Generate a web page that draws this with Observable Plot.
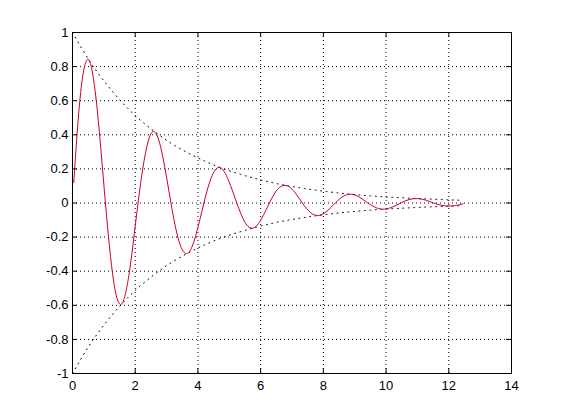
<!DOCTYPE html>
<html>
<head>
<meta charset="utf-8">
<script src="https://cdn.jsdelivr.net/npm/d3@7"></script>
<script src="https://cdn.jsdelivr.net/npm/@observablehq/plot@0.6"></script>
<style>
  html, body { margin: 0; padding: 0; background: white; }
  #chart svg { display: block; }
</style>
</head>
<body>
<div id="chart"></div>
<script>
// Damped oscillation
const tValues = [0.04, 0.26, 0.52, 0.79, 1.05, 1.31, 1.57, 1.83, 2.09, 2.36, 2.62, 2.88, 3.14, 3.40, 3.67, 3.93,
  4.19, 4.45, 4.71, 4.97, 5.24, 5.50, 5.76, 6.02, 6.28, 6.54, 6.81, 7.07, 7.33, 7.59, 7.85, 8.12,
  8.38, 8.64, 8.90, 9.16, 9.42, 9.69, 9.95, 10.21, 10.47, 10.73, 11.00, 11.26, 11.52, 11.78, 12.04, 12.30, 12.45];
const yValues = [0.12, 0.648, 0.840, 0.544, 0, -0.457, -0.592, -0.384, 0, 0.322, 0.418, 0.271, 0, -0.227, -0.295, -0.191,
  0, 0.160, 0.208, 0.135, 0, -0.113, -0.147, -0.095, 0, 0.080, 0.103, 0.067, 0, -0.056, -0.073, -0.047,
  0, 0.040, 0.051, 0.033, 0, -0.028, -0.036, -0.023, 0, 0.020, 0.026, 0.017, 0, -0.014, -0.018, -0.012, -0.005];

// Envelope (dotted)
const envT = [0, 0.52, 1.05, 1.57, 2.09, 2.62, 3.14, 3.67, 4.19, 4.71, 5.24, 5.76, 6.28, 6.81, 7.33, 7.85,
  8.38, 8.90, 9.42, 9.95, 10.47, 11.00, 11.52, 12.04, 12.45];
const envUpper = [1, 0.840, 0.705, 0.592, 0.498, 0.418, 0.351, 0.295, 0.248, 0.208, 0.175, 0.147, 0.123, 0.103, 0.087, 0.073,
  0.061, 0.051, 0.043, 0.036, 0.031, 0.026, 0.022, 0.018, 0.016];

const xTicks = [0, 2, 4, 6, 8, 10, 12, 14];
const yTicks = [-1, -0.8, -0.6, -0.4, -0.2, 0, 0.2, 0.4, 0.6, 0.8, 1];

const W = 561, H = 420;
const mL = 72, mR = 50, mT = 32, mB = 47;
const frameH = H - mT - mB, frameW = W - mL - mR;
const tickLen = 5;

const curve = tValues.map((t, i) => ({t, y: yValues[i]}));
const upper = envT.map((t, i) => ({t, y: envUpper[i]}));
const lower = envT.map((t, i) => ({t, y: -envUpper[i]}));
const fmt = d => String(d);

const chart = Plot.plot({
  width: W, height: H,
  marginLeft: mL, marginRight: mR, marginTop: mT, marginBottom: mB,
  x: {domain: [0, 14]},
  y: {domain: [-1, 1]},
  style: {fontFamily: "'Liberation Sans', Arial, sans-serif", fontSize: "13px", background: "white", color: "black"},
  marks: [
    Plot.gridX(xTicks.filter(d => d > 0 && d < 14), {stroke: "black", strokeOpacity: 1, strokeDasharray: "1,3"}),
    Plot.gridY(yTicks.filter(d => d > -1 && d < 1), {stroke: "black", strokeOpacity: 1, strokeDasharray: "1,3"}),
    Plot.line(upper, {x: "t", y: "y", stroke: "black", strokeWidth: 1, strokeDasharray: "1,4.5", curve: "natural"}),
    Plot.line(lower, {x: "t", y: "y", stroke: "black", strokeWidth: 1, strokeDasharray: "1,4.5", curve: "natural"}),
    Plot.line(curve, {x: "t", y: "y", stroke: "#cc0022", strokeWidth: 1, curve: "natural"}),
    Plot.tickX(xTicks, {x: d => d, stroke: "black", insetTop: frameH - tickLen}),
    Plot.tickX(xTicks, {x: d => d, stroke: "black", insetBottom: frameH - tickLen}),
    Plot.tickY(yTicks, {y: d => d, stroke: "black", insetRight: frameW - tickLen}),
    Plot.tickY(yTicks, {y: d => d, stroke: "black", insetLeft: frameW - tickLen}),
    Plot.axisX(xTicks, {tickSize: 0, tickPadding: 7, tickFormat: fmt, label: null}),
    Plot.axisY(yTicks, {tickSize: 0, tickPadding: 4, tickFormat: fmt, label: null}),
    Plot.frame({stroke: "black", strokeWidth: 1})
  ]
});
document.getElementById("chart").appendChild(chart);
</script>
</body>
</html>
